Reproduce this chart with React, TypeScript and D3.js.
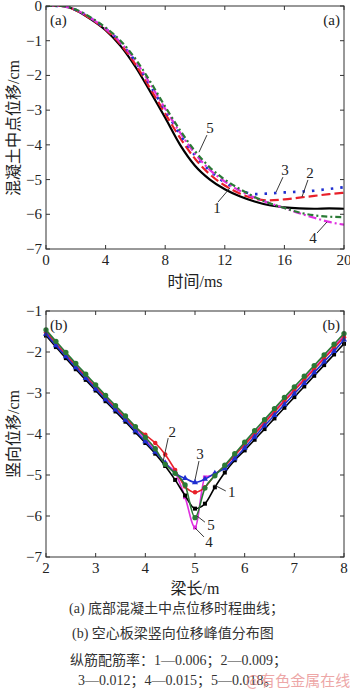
import React from 'react';
import * as d3 from 'd3';

// (a) mid-span displacement of bottom concrete vs time
const timeMs = [0, 1, 2, 3, 4, 5, 6, 7, 8, 9, 10, 11, 12, 13, 14, 15, 16, 17, 18, 19, 20];
const timeDisp1 = [0, 0, -0.12, -0.38, -0.7, -1.15, -1.75, -2.47, -3.22, -4.0, -4.6, -5.0, -5.28, -5.48, -5.63, -5.74, -5.8, -5.83, -5.84, -5.83, -5.84];
const timeDisp2 = [0, 0, -0.12, -0.37, -0.68, -1.1, -1.68, -2.38, -3.1, -3.8, -4.4, -4.85, -5.17, -5.4, -5.55, -5.6, -5.57, -5.52, -5.47, -5.42, -5.38];
const timeDisp3 = [0, 0, -0.11, -0.35, -0.65, -1.05, -1.6, -2.3, -3.0, -3.7, -4.3, -4.75, -5.08, -5.3, -5.42, -5.4, -5.37, -5.35, -5.32, -5.27, -5.22];
const timeDisp4 = [0, 0, -0.11, -0.35, -0.65, -1.05, -1.58, -2.25, -2.96, -3.65, -4.25, -4.72, -5.06, -5.32, -5.52, -5.68, -5.82, -5.97, -6.1, -6.22, -6.3];
const timeDisp5 = [0, 0, -0.1, -0.33, -0.62, -1.0, -1.52, -2.18, -2.9, -3.58, -4.18, -4.65, -5.0, -5.27, -5.5, -5.68, -5.82, -5.95, -6.03, -6.07, -6.08];

// (b) peak vertical displacement along the beam
const beamPos = [2.0, 2.2, 2.4, 2.6, 2.8, 3.0, 3.2, 3.4, 3.6, 3.8, 4.0, 4.2, 4.4, 4.6, 4.8, 5.0, 5.2, 5.4, 5.6, 5.8, 6.0, 6.2, 6.4, 6.6, 6.8, 7.0, 7.2, 7.4, 7.6, 7.8, 8.0];
const peak1 = [-1.6, -1.88, -2.15, -2.42, -2.68, -2.94, -3.2, -3.45, -3.7, -3.96, -4.22, -4.48, -4.78, -5.12, -5.5, -5.82, -5.7, -5.3, -4.94, -4.64, -4.4, -4.14, -3.88, -3.62, -3.36, -3.1, -2.84, -2.58, -2.32, -2.06, -1.8];
const peak2 = [-1.52, -1.8, -2.07, -2.34, -2.6, -2.86, -3.12, -3.37, -3.62, -3.84, -4.02, -4.22, -4.5, -4.88, -5.28, -5.42, -5.3, -5.0, -4.78, -4.52, -4.26, -4.0, -3.73, -3.46, -3.2, -2.94, -2.68, -2.42, -2.16, -1.9, -1.64];
const peak3 = [-1.56, -1.84, -2.11, -2.38, -2.64, -2.9, -3.16, -3.41, -3.66, -3.92, -4.18, -4.44, -4.7, -4.96, -5.08, -5.18, -5.1, -4.96, -4.84, -4.6, -4.34, -4.07, -3.8, -3.54, -3.28, -3.02, -2.76, -2.5, -2.24, -1.98, -1.7];
const peak4 = [-1.5, -1.78, -2.05, -2.32, -2.58, -2.84, -3.1, -3.35, -3.6, -3.86, -4.12, -4.4, -4.72, -4.94, -5.54, -6.28, -5.06, -4.98, -4.78, -4.52, -4.24, -3.97, -3.7, -3.43, -3.17, -2.91, -2.65, -2.39, -2.13, -1.87, -1.6];
const peak5 = [-1.46, -1.74, -2.01, -2.28, -2.54, -2.8, -3.06, -3.31, -3.56, -3.82, -4.08, -4.36, -4.74, -4.96, -5.24, -6.04, -5.32, -5.02, -4.76, -4.48, -4.2, -3.92, -3.65, -3.38, -3.11, -2.85, -2.59, -2.33, -2.07, -1.81, -1.55];

const topXTicks = [0, 4, 8, 12, 16, 20];
const topYTicks = [0, -1, -2, -3, -4, -5, -6, -7];
const botXTicks = [2, 3, 4, 5, 6, 7, 8];
const botYTicks = [-1, -2, -3, -4, -5, -6, -7];

const SERIF = '"Liberation Serif", "Times New Roman", serif';
const CJK = '"Noto Sans CJK SC", sans-serif';

const colors = ['#000000', '#e8202a', '#1f2fd0', '#e030e0', '#2a7a35'];
const topDash = ['none', '9,4', '2.5,7', '8,3,2,3', '6,3,2,3'];
const markerTypes = [d3.symbolSquare, d3.symbolCircle, d3.symbolTriangle, d3.symbolSquare, d3.symbolCircle];

// curve labels: text position and leader line in data units
const topNotes = [
  { t: '5', x: 11.0, y: -3.51, x1: 10.8, y1: -3.72, x2: 10.27, y2: -4.21 },
  { t: '3', x: 16.04, y: -4.72, x1: 15.9, y1: -4.93, x2: 15.44, y2: -5.36 },
  { t: '2', x: 17.72, y: -4.81, x1: 17.58, y1: -5.01, x2: 17.18, y2: -5.5 },
  { t: '1', x: 11.48, y: -5.82, x1: 11.54, y1: -5.65, x2: 12.35, y2: -5.24 },
  { t: '4', x: 17.92, y: -6.68, x1: 18.19, y1: -6.54, x2: 18.86, y2: -6.22 },
];
const botNotes = [
  { t: '2', x: 4.54, y: -3.95, x1: 4.46, y1: -4.1, x2: 4.36, y2: -4.66 },
  { t: '3', x: 5.1, y: -4.49, x1: 5.08, y1: -4.66, x2: 5.0, y2: -5.12 },
  { t: '1', x: 5.74, y: -5.41, x1: 5.62, y1: -5.39, x2: 5.38, y2: -5.24 },
  { t: '5', x: 5.32, y: -6.22, x1: 5.2, y1: -6.15, x2: 5.04, y2: -6.0 },
  { t: '4', x: 5.28, y: -6.63, x1: 5.18, y1: -6.51, x2: 5.0, y2: -6.29 },
];

type Scale = d3.ScaleLinear<number, number>;

const fmt = (v: number) => (v < 0 ? '\u2212' + Math.abs(v) : String(v));

function Frame({ x, y, xTicks, yTicks }: { x: Scale; y: Scale; xTicks: number[]; yTicks: number[] }) {
  const [x0, x1] = x.range();
  const [y0, y1] = y.range();
  return (
    <g>
      <rect x={x0} y={y1} width={x1 - x0} height={y0 - y1} fill="none" stroke="#333" strokeWidth={1} />
      {xTicks.map((v) => (
        <g key={'x' + v}>
          <line x1={x(v)} x2={x(v)} y1={y0} y2={y0 - 4} stroke="#333" />
          <line x1={x(v)} x2={x(v)} y1={y1} y2={y1 + 4} stroke="#333" />
          <text x={x(v)} y={y0 + 16} textAnchor="middle" fontFamily={SERIF} fontSize={15} fill="#222">{fmt(v)}</text>
        </g>
      ))}
      {yTicks.map((v) => (
        <g key={'y' + v}>
          <line x1={x0} x2={x0 + 4} y1={y(v)} y2={y(v)} stroke="#333" />
          <line x1={x1} x2={x1 - 4} y1={y(v)} y2={y(v)} stroke="#333" />
          <text x={x0 - 4} y={y(v) + 5} textAnchor="end" fontFamily={SERIF} fontSize={15} fill="#222">{fmt(v)}</text>
        </g>
      ))}
    </g>
  );
}

function Notes({ x, y, notes }: { x: Scale; y: Scale; notes: typeof topNotes }) {
  return (
    <g>
      {notes.map((n) => (
        <g key={n.t}>
          <line x1={x(n.x1)} y1={y(n.y1)} x2={x(n.x2)} y2={y(n.y2)} stroke="#222" strokeWidth={0.9} />
          <text x={x(n.x)} y={y(n.y) + 5} textAnchor="middle" fontFamily={SERIF} fontSize={15} fill="#222">{n.t}</text>
        </g>
      ))}
    </g>
  );
}

export default function App() {
  const xa = d3.scaleLinear().domain([0, 20]).range([46, 344]);
  const ya = d3.scaleLinear().domain([-7, 0]).range([249, 6]);
  const xb = d3.scaleLinear().domain([2, 8]).range([46, 344]);
  const yb = d3.scaleLinear().domain([-7, -1]).range([557, 311]);

  const timeSeries = [timeDisp1, timeDisp2, timeDisp3, timeDisp4, timeDisp5];
  const peakSeries = [peak1, peak2, peak3, peak4, peak5];

  const lineA = d3.line<number>().x((_, i) => xa(timeMs[i])).y((d) => ya(d)).curve(d3.curveMonotoneX);
  const lineB = d3.line<number>().x((_, i) => xb(beamPos[i])).y((d) => yb(d)).curve(d3.curveMonotoneX);

  const drawOrderA = [0, 1, 2, 3, 4];
  const drawOrderB = [3, 0, 1, 2, 4];

  return (
    <svg width={350} height={694} style={{ position: 'absolute', left: 0, top: 0, background: '#fff' }}>
      <defs>
        <clipPath id="clipA"><rect x={46} y={6} width={298} height={243} /></clipPath>
      </defs>

      {/* chart (a) */}
      <g clipPath="url(#clipA)">
        {drawOrderA.map((k) => (
          <path key={k} d={lineA(timeSeries[k]) || ''} fill="none" stroke={colors[k]}
            strokeWidth={k === 2 ? 2.6 : 2.2} strokeDasharray={topDash[k]} />
        ))}
      </g>
      <Frame x={xa} y={ya} xTicks={topXTicks} yTicks={topYTicks} />
      <Notes x={xa} y={ya} notes={topNotes} />
      <text x={50} y={25} fontFamily={SERIF} fontSize={15} fill="#222">(a)</text>
      <text x={340} y={25} textAnchor="end" fontFamily={SERIF} fontSize={15} fill="#222">(a)</text>
      <text x={195} y={287} textAnchor="middle" fontSize={16} fill="#222">
        <tspan fontFamily={CJK}>时间</tspan><tspan fontFamily={SERIF}>/ms</tspan>
      </text>
      <text transform="translate(19,128) rotate(-90)" textAnchor="middle" fontSize={16} fill="#222">
        <tspan fontFamily={CJK}>混凝土中点位移</tspan><tspan fontFamily={SERIF}>/cm</tspan>
      </text>

      {/* chart (b) */}
      <g>
        {drawOrderB.map((k) => (
          <g key={k}>
            <path d={lineB(peakSeries[k]) || ''} fill="none" stroke={colors[k]} strokeWidth={1.6} />
            {peakSeries[k].map((v, i) => (
              <path key={i} transform={`translate(${xb(beamPos[i])},${yb(v)})`}
                d={d3.symbol().type(markerTypes[k]).size(k === 4 ? 22 : 16)() || ''} fill={colors[k]} />
            ))}
          </g>
        ))}
      </g>
      <Frame x={xb} y={yb} xTicks={botXTicks} yTicks={botYTicks} />
      <Notes x={xb} y={yb} notes={botNotes} />
      <text x={50} y={330} fontFamily={SERIF} fontSize={15} fill="#222">(b)</text>
      <text x={340} y={330} textAnchor="end" fontFamily={SERIF} fontSize={15} fill="#222">(b)</text>
      <text x={195} y={594} textAnchor="middle" fontSize={16} fill="#222">
        <tspan fontFamily={CJK}>梁长</tspan><tspan fontFamily={SERIF}>/m</tspan>
      </text>
      <text transform="translate(19,434) rotate(-90)" textAnchor="middle" fontSize={16} fill="#222">
        <tspan fontFamily={CJK}>竖向位移</tspan><tspan fontFamily={SERIF}>/cm</tspan>
      </text>

      {/* caption */}
      <g fontSize={14} fill="#333">
        <text x={69} y={613}>
          <tspan fontFamily={SERIF}>(a) </tspan><tspan fontFamily={CJK}>底部混凝土中点位移时程曲线；</tspan>
        </text>
        <text x={72} y={638}>
          <tspan fontFamily={SERIF}>(b) </tspan><tspan fontFamily={CJK}>空心板梁竖向位移峰值分布图</tspan>
        </text>
        <text x={70} y={665}>
          <tspan fontFamily={CJK}>纵筋配筋率：</tspan><tspan fontFamily={SERIF}>1—0.006</tspan><tspan fontFamily={CJK}>；</tspan>
          <tspan fontFamily={SERIF}>2—0.009</tspan><tspan fontFamily={CJK}>；</tspan>
        </text>
        <text x={78} y={685}>
          <tspan fontFamily={SERIF}>3—0.012</tspan><tspan fontFamily={CJK}>；</tspan>
          <tspan fontFamily={SERIF}>4—0.015</tspan><tspan fontFamily={CJK}>；</tspan>
          <tspan fontFamily={SERIF}>5—0.018</tspan><tspan fontFamily={CJK}>。</tspan>
        </text>
      </g>
      <text x={246} y={686} fontFamily={CJK} fontSize={15} fill="#e88a8a" opacity={0.75}>@有色金属在线</text>
    </svg>
  );
}
